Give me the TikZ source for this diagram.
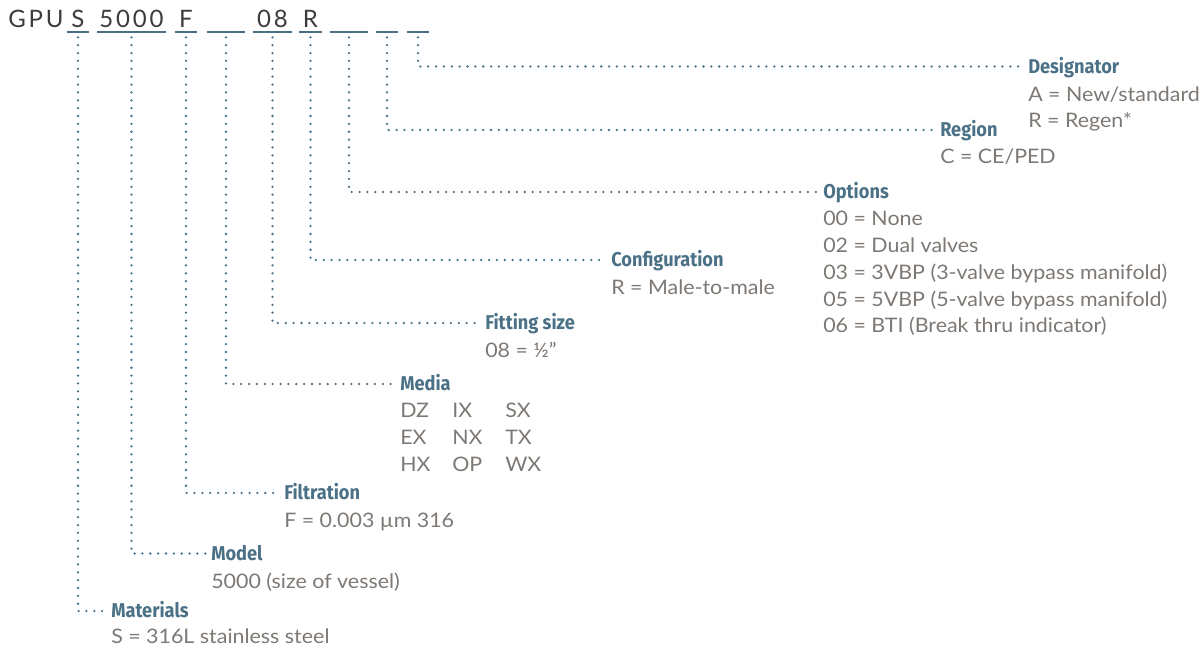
\documentclass[tikz,border=0pt]{standalone}
\usepackage{fontspec}
\setmainfont{Lato}[FakeStretch=1.07]
\newfontfamily\headfont[FakeStretch=0.91]{Fira Sans}
\newfontfamily\codefont[LetterSpace=12]{Lato}
\definecolor{headblue}{HTML}{4B7187}
\definecolor{valgray}{HTML}{7D7873}
\definecolor{codegray}{HTML}{3C3C3C}
\definecolor{linecol}{HTML}{4B6F85}

\tikzset{
  code/.style={font=\codefont\fontsize{18}{20}\selectfont, text=codegray,
    inner xsep=0pt, inner ysep=0pt, text height=13pt, text depth=3pt, anchor=south},
  uline/.style={draw=linecol, line width=1pt},
  dots/.style={draw=linecol, line width=1.9pt, line cap=round,
    dash pattern=on 0pt off 5.9pt, shorten <=4pt, shorten >=4pt},
  head/.style={font=\headfont\bfseries\fontsize{15}{17}\selectfont, text=headblue,
    anchor=west, inner sep=0pt, text height=10.4pt, text depth=0pt},
  val/.style={font=\fontsize{15}{17}\selectfont, text=valgray,
    anchor=west, inner sep=0pt, text height=10.8pt, text depth=0pt}
}

\begin{document}
\begin{tikzpicture}[x=0.75pt,y=-0.75pt]
  \useasboundingbox (0,0) rectangle (1202,647);

  % code line
  \node[code, anchor=south west] (gpu) at (8,32) {GPU};
  \node[code, minimum width=16.5pt] (cS) at (78,32) {S};
  \node[code, minimum width=52pt] (cM) at (131.5,32) {5000};
  \node[code, minimum width=16.5pt] (cF) at (186,32) {F};
  \node[code, minimum width=28.5pt] (cX) at (226,32) {};
  \node[code, minimum width=29pt] (cZ) at (272.5,32) {08};
  \node[code, minimum width=17pt] (cC) at (310.5,32) {R};
  \node[code, minimum width=28.5pt] (cO) at (349,32) {};
  \node[code, minimum width=16.5pt] (cR) at (387,32) {};
  \node[code, minimum width=16.5pt] (cD) at (418,32) {};
  \foreach \n in {cS,cM,cF,cX,cZ,cC,cO,cR,cD}
    \draw[uline] (\n.south west) -- (\n.south east);

  % Designator
  \node[head] (des) at (1028,66.5) {Designator};
  \node[val] (desA) at (1028,94) {A = New/standard};
  \node[val] (desR) at (1028,120.5) {R = Regen*};

  % Region
  \node[head] (reg) at (940,130) {Region};
  \node[val] (regC) at (940,156.5) {C = CE/PED};

  % Options
  \node[head] (opt) at (823,192) {Options};
  \foreach \t [count=\i] in {00 = None, 02 = Dual valves,
      03 = 3VBP (3-valve bypass manifold), 05 = 5VBP (5-valve bypass manifold),
      06 = BTI (Break thru indicator)}
    \node[val] (opt\i) at (823,{192+26.7*\i}) {\t};

  % Configuration
  \node[head] (cfg) at (611,260) {Configuration};
  \node[val] (cfgR) at (611,287) {R = Male-to-male};

  % Fitting size
  \node[head] (fit) at (485,323) {Fitting size};
  \node[val] (fit08) at (485,350) {08 = ½"};

  % Media
  \node[head] (med) at (400,384) {Media};
  \foreach \a/\b/\c [count=\i] in {DZ/IX/SX, EX/NX/TX, HX/OP/WX}{
    \node[val] (medA\i) at (400,{384+26.7*\i}) {\a};
    \node[val] (medB\i) at (452,{384+26.7*\i}) {\b};
    \node[val] (medC\i) at (505,{384+26.7*\i}) {\c};
  }

  % Filtration
  \node[head] (fil) at (284,493) {Filtration};
  \node[val] (filF) at (284,520.5) {F = 0.003 µm 316};

  % Model
  \node[head] (mod) at (211,553.5) {Model};
  \node[val] (mod5) at (211,581) {5000 (size of vessel)};

  % Materials
  \node[head] (mat) at (111,611) {Materials};
  \node[val] (matS) at (111,636.5) {S = 316L stainless steel};

  % dotted leaders
  \draw[dots] (cS.south) |- (mat.west);
  \draw[dots] (cM.south) |- (mod.west);
  \draw[dots] (cF.south) |- (fil.west);
  \draw[dots] (cX.south) |- (med.west);
  \draw[dots] (cZ.south) |- (fit.west);
  \draw[dots] (cC.south) |- (cfg.west);
  \draw[dots] (cO.south) |- (opt.west);
  \draw[dots] (cR.south) |- (reg.west);
  \draw[dots] (cD.south) |- (des.west);
\end{tikzpicture}
\end{document}
